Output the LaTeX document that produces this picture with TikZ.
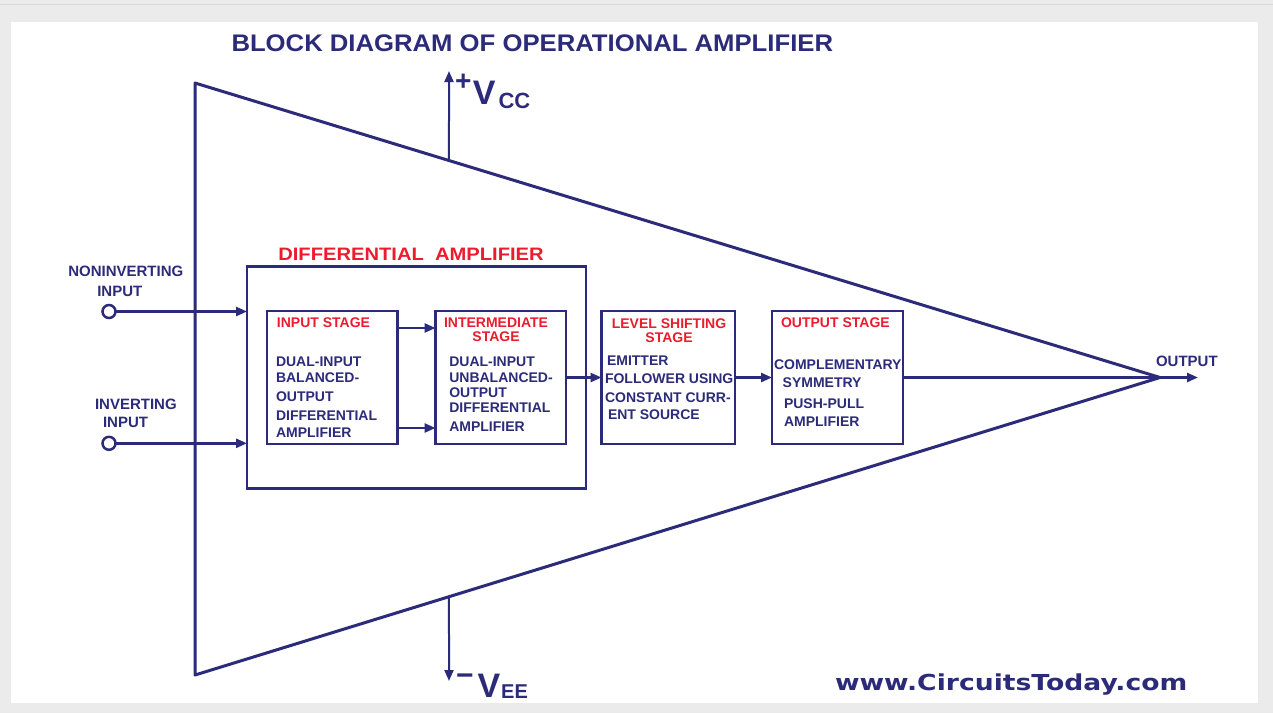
\documentclass[tikz,border=0pt]{standalone}
\usepackage{fontspec}
\setmainfont{Liberation Sans}
\newfontfamily\webfont{DejaVu Sans}
\usetikzlibrary{arrows.meta,calc}
\definecolor{navy}{RGB}{44,43,122}
\definecolor{labelred}{RGB}{236,28,46}
\definecolor{pagegray}{RGB}{235,235,235}
\newcommand\fs[1]{\fontsize{#1}{#1}\selectfont\bfseries}
\newcommand\bodyfont[1]{\fontsize{14}{#1}\selectfont\bfseries}

\begin{document}
\begin{tikzpicture}[x=1pt,y=-1pt,
  every node/.style={inner sep=0pt, outer sep=0pt, text=navy},
  boxline/.style={draw=navy, line width=2.5pt, rectangle},
  stagebox/.style={boxline, minimum height=133pt},
  conn/.style={draw=navy, line width=2.5pt},
  arr/.style={conn, -{Triangle[length=11pt,width=9pt]}},
  redlbl/.style={text=labelred, font={\fs{14}}, align=center, anchor=base},
  body/.style={align=left, anchor=base west},
  terminal/.style={circle, draw=navy, line width=2.5pt, minimum size=13pt, fill=white},
]
% page and panel
\useasboundingbox (0,0) rectangle (1273,713);
\fill[pagegray] (0,0) rectangle (1273,713);
\draw[black!15, line width=1pt] (0,4.5) -- (1273,4.5);
\fill[white] (11,22) rectangle (1258,703);

% title
\node[anchor=base west] (title) at (231.5,51.5)
  {\fs{24}\scalebox{1.07}[1]{BLOCK DIAGRAM OF OPERATIONAL AMPLIFIER}};

% amplifier triangle
\coordinate (tl) at (195,83);
\coordinate (bl) at (195,675);
\coordinate (apex) at (1160,377.5);
\draw[navy, line width=3pt, line join=round] (tl) -- (apex) -- (bl) -- cycle;

% supply rails
\coordinate (vccfoot) at ($(tl)!0.2632!(apex)$);
\coordinate (vcctip) at (449,71);
\coordinate (veefoot) at ($(bl)!0.2632!(apex)$);
\coordinate (veetip) at (449,681);
\draw[arr, line width=2pt] (vccfoot) -- (vcctip);
\draw[arr, line width=2pt] (veefoot) -- (veetip);
\node[anchor=base west] (vcc) at (455,104)
  {\fs{28}\raisebox{14pt}{+}\kern1.5pt\fs{34}V\kern3pt\raisebox{-4pt}{\fs{22}CC}};
\node[anchor=base west] (vee) at (456,697)
  {\fs{30}\raisebox{11.4pt}{−}\kern4pt\fs{34}V\kern1pt\raisebox{-1pt}{\fs{20}EE}};

% differential amplifier block
\node[boxline, minimum width=339pt, minimum height=222pt] (diff) at (416.5,377.4) {};
\node[anchor=base west, text=labelred] (difflbl) at (278.3,260)
  {\fs{18}\scalebox{1.12}[1]{DIFFERENTIAL\ \ AMPLIFIER}};

% inputs (multi-line nodes are anchored on their last baseline)
\node[terminal] (nin) at (109,311.5) {};
\node[terminal] (inv) at (109,443.3) {};
\node[anchor=base west, align=left, font={\fontsize{15}{20}\selectfont\bfseries}] (ninlbl)
  at (68.3,296) {NONINVERTING\\\hspace*{29pt}INPUT};
\node[anchor=base west, align=left, font={\fontsize{15}{18}\selectfont\bfseries}] (invlbl)
  at (95,427.3) {INVERTING\\\hspace*{8pt}INPUT};
\draw[arr] (nin) -- (nin -| diff.west);
\draw[arr] (inv) -- (inv -| diff.west);

% stages
\node[stagebox, minimum width=130.5pt] (inp) at (332.25,377.5) {};
\node[stagebox, minimum width=130.5pt] (mid) at (500.75,377.5) {};
\node[stagebox, minimum width=133.5pt] (lvl) at (668.25,377.5) {};
\node[stagebox, minimum width=131pt] (outs) at (837.5,377.5) {};

\node[redlbl] (inplbl) at (323.5,327.5) {INPUT STAGE};
\node[redlbl] (midlbl) at (496,341.7) {INTERMEDIATE\\STAGE};
\node[redlbl] (lvllbl) at (669,342.3) {LEVEL SHIFTING\\STAGE};
\node[redlbl] (outlbl) at (835.4,327.5) {OUTPUT STAGE};

\node[body, font={\bodyfont{15.3}}] (inptxt) at (276,437)
  {DUAL-INPUT\\BALANCED-\\[4.4pt]OUTPUT\\[3pt]DIFFERENTIAL\\[1.7pt]AMPLIFIER};
\node[body, font={\bodyfont{15}}] (midtxt) at (449.3,431)
  {DUAL-INPUT\\[1.3pt]UNBALANCED-\\OUTPUT\\DIFFERENTIAL\\[3.3pt]AMPLIFIER};
\node[body, font={\bodyfont{18}}] (lvltxt) at (605,419)
  {\hspace*{2pt}EMITTER\\FOLLOWER USING\\[1pt]CONSTANT CURR-\\[-1.3pt]\hspace*{3pt}ENT SOURCE};
\node[body, font={\bodyfont{18.3}}] (outtxt) at (774,426.7)
  {COMPLEMENTARY\\\hspace*{8.7pt}SYMMETRY\\[2.7pt]\hspace*{10pt}PUSH-PULL\\\hspace*{10pt}AMPLIFIER};

% signal path
\draw[arr] ([yshift=49.5pt]inp.east) -- ([yshift=49.5pt]mid.west);
\draw[arr] ([yshift=-50.5pt]inp.east) -- ([yshift=-50.5pt]mid.west);
\draw[arr] (mid.east) -- (lvl.west);
\draw[arr] (lvl.east) -- (outs.west);
\draw[conn] (outs.east) -- (apex);
\coordinate (outtip) at (1198,377.5);
\draw[arr] (apex) -- (outtip);
\node[anchor=base west, font={\fs{15}}] (outlabel) at (1156,366.7) {OUTPUT};

% credit
\node[anchor=base west] (web) at (835,690.7)
  {\webfont\fs{22}\scalebox{1.21}[1]{www.CircuitsToday.com}};
\end{tikzpicture}
\end{document}
